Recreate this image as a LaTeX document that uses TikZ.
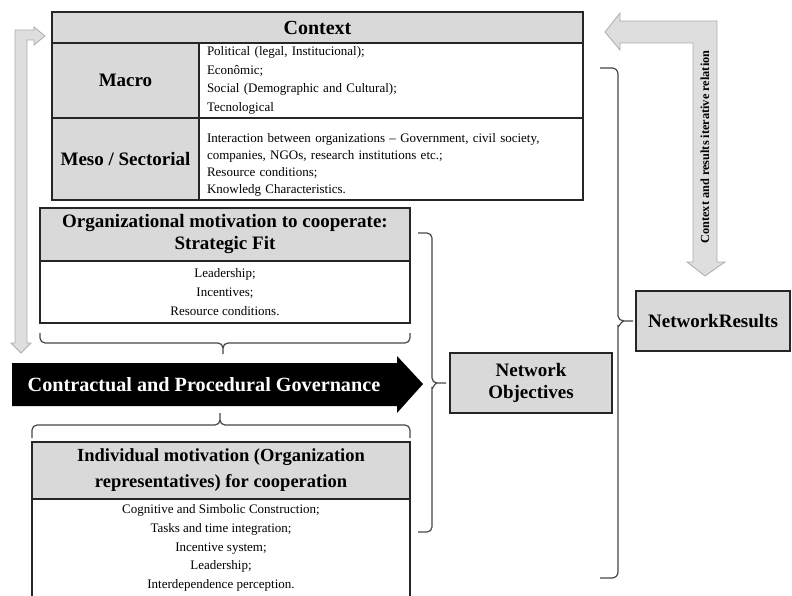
\documentclass[tikz,border=0pt]{standalone}
\usepackage{fontspec}
\setmainfont{Liberation Serif}
\usetikzlibrary{arrows.meta,positioning,calc}
\definecolor{cellgray}{RGB}{217,217,217}
\definecolor{bendgray}{RGB}{222,222,222}
\definecolor{bendedge}{RGB}{172,172,172}
\definecolor{inkgray}{RGB}{38,38,38}
\newcommand{\boxhead}{\fontsize{19}{22}\selectfont\bfseries}
\newcommand{\boxbody}{\fontsize{13}{18.6}\selectfont}

\begin{document}
\begin{tikzpicture}[x=1pt, y=-1pt,
    every node/.style={inner sep=0pt, outer sep=0pt},
    cell/.style={draw=inkgray, line width=1.4pt, anchor=north west},
    head/.style={cell, fill=cellgray, font=\boxhead, align=center},
    body/.style={cell, fill=white, font=\boxbody},
    bracket/.style={draw=inkgray!85, line width=1.2pt},
    bentarrow/.style={fill=bendgray, draw=bendedge, line width=0.8pt}]
  \useasboundingbox (0,0) rectangle (792,596);

  % context table
  \node[head, minimum width=531pt, minimum height=31pt, font=\fontsize{20}{22}\selectfont\bfseries] (ctx) at (52,12) {Context};
  \node[head, minimum width=147pt, minimum height=75pt] (macro) at (52,43) {Macro};
  \node[body, minimum width=384pt, minimum height=75pt, inner xsep=8pt, text width=368pt, align=left] (macrotxt) at (199,43)
    {Political (legal, Institucional);\\Econômic;\\Social (Demographic and Cultural);\\Tecnological};
  \node[head, minimum width=147pt, minimum height=82pt] (meso) at (52,118) {Meso / Sectorial};
  \node[body, minimum width=384pt, minimum height=82pt, inner xsep=8pt, text width=368pt, align=left,
        font=\fontsize{13}{17}\selectfont] (mesotxt) at (199,118)
    {\rule{0pt}{20pt}Interaction between organizations – Government, civil society,\\companies, NGOs, research institutions etc.;\\Resource conditions;\\Knowledg Characteristics.};

  % organizational motivation
  \node[head, minimum width=370pt, minimum height=53pt, font=\fontsize{19}{22}\selectfont\bfseries] (orghead) at (40,208)
    {Organizational motivation to cooperate:\\Strategic Fit};
  \node[body, minimum width=370pt, minimum height=62pt, align=center] (orgtxt) at (40,261)
    {Leadership;\\Incentives;\\Resource conditions.};

  % governance arrow
  \fill[black] (12,363) -- (397,363) -- (397,356) -- (423,384) -- (397,413) -- (397,406) -- (12,406) -- cycle;
  \node[font=\fontsize{20.2}{22}\selectfont\bfseries, text=white] (gov) at (204,385) {Contractual and Procedural Governance};

  % individual motivation
  \node[head, minimum width=378pt, minimum height=57pt, font=\fontsize{18.5}{26}\selectfont\bfseries] (indhead) at (32,442)
    {Individual motivation (Organization\\representatives) for cooperation};
  \node[body, minimum width=378pt, minimum height=98pt, align=center] (indtxt) at (32,499)
    {Cognitive and Simbolic Construction;\\Tasks and time integration;\\Incentive system;\\Leadership;\\Interdependence perception.};

  % objectives and results
  \node[head, minimum width=162pt, minimum height=60pt] (nobj) at (450,353) {Network\\Objectives};
  \node[head, minimum width=154pt, minimum height=60pt] (nres) at (636,291) {NetworkResults};

  % gray bent arrows
  \draw[bentarrow] (15,30) -- (34,30) -- (34,27) -- (45,36) -- (34,45) -- (34,40) -- (27,40) -- (27,343)
    -- (31,343) -- (21,353) -- (11,343) -- (15,343) -- cycle;
  \draw[bentarrow] (605,32) -- (620,13) -- (620,21) -- (717,21) -- (717,262) -- (725,262) -- (705,276)
    -- (687,262) -- (693,262) -- (693,43) -- (620,43) -- (620,50) -- cycle;
  \node[rotate=90, font=\fontsize{12.3}{14}\selectfont\bfseries] (iter) at (705,147) {Context and results iterative relation};

  % brackets
  \draw[bracket] (40,333) -- (40,338) to[out=-90,in=180] (45,343) -- (218,343) to[out=0,in=90] (223,348) -- (223,354);
  \draw[bracket] (410,333) -- (410,338) to[out=-90,in=0] (405,343) -- (228,343) to[out=180,in=90] (223,348);
  \draw[bracket] (32,438) -- (32,430) to[out=90,in=180] (37,425) -- (215,425) to[out=0,in=-90] (220,420) -- (220,413);
  \draw[bracket] (410,438) -- (410,430) to[out=90,in=0] (405,425) -- (225,425) to[out=180,in=-90] (220,420);
  \draw[bracket] (418,233) -- (427,233) to[out=0,in=90] (432,238) -- (432,378) to[out=-90,in=180] (437,383) -- ([xshift=-4pt]nobj.west);
  \draw[bracket] (437,383) to[out=180,in=-90] (432,388) -- (432,527) to[out=-90,in=0] (427,532) -- (418,532);
  \draw[bracket] (600,68) -- (612,68) to[out=0,in=90] (618,74) -- (618,316) to[out=-90,in=180] (624,321) -- ([xshift=-3pt]nres.west);
  \draw[bracket] (624,321) to[out=180,in=-90] (618,326) -- (618,572) to[out=-90,in=0] (612,578) -- (600,578);
\end{tikzpicture}
\end{document}
